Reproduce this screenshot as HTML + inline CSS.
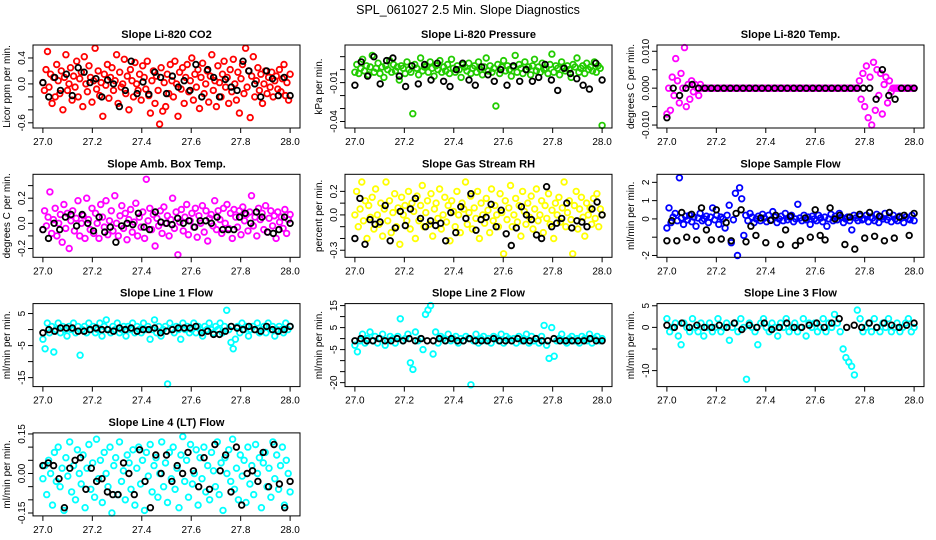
<!DOCTYPE html>
<html><head><meta charset="utf-8"><style>
html,body{margin:0;padding:0;background:#fff;}
svg{display:block;font-family:"Liberation Sans",sans-serif;}
</style></head><body>
<svg id="chart" width="936" height="540" viewBox="0 0 936 540">
<rect x="0" y="0" width="936" height="540" fill="#fff"/>
<text x="468" y="14" text-anchor="middle" font-size="12.5">SPL_061027  2.5 Min. Slope Diagnostics</text>
</svg>
<script>
const xTicks = [27.0, 27.2, 27.4, 27.6, 27.8, 28.0];
const xTickLabels = ["27.0", "27.2", "27.4", "27.6", "27.8", "28.0"];

const co2Color = [0.02,-0.1,0.22,0.5,-0.05,0.15,-0.3,0.1,-0.2,0.3,0.05,-0.15,0.2,-0.4,0.1,0.45,-0.1,0.0,0.25,-0.25,0.12,-0.05,0.35,-0.2,0.08,0.18,-0.35,0.42,0.0,-0.12,0.28,0.1,-0.28,0.05,0.55,-0.08,0.2,-0.18,0.02,-0.5,0.15,-0.02,0.3,-0.22,0.1,0.25,-0.1,0.05,0.45,-0.3,0.18,-0.05,0.0,0.38,-0.15,0.12,-0.4,0.22,0.05,-0.2,0.33,0.0,-0.1,0.15,-0.25,0.28,0.1,-0.08,0.35,-0.18,-0.45,0.05,0.2,-0.3,0.12,-0.1,-0.62,0.25,-0.42,0.02,-0.35,0.15,-0.15,0.3,0.05,-0.2,0.35,0.0,-0.5,0.18,-0.08,0.25,-0.3,0.1,0.3,-0.12,0.05,0.4,-0.25,0.15,-0.05,0.22,-0.38,0.1,0.32,-0.15,0.0,0.2,-0.28,0.12,0.45,-0.1,0.05,-0.35,0.28,0.02,-0.2,0.15,0.35,-0.05,0.1,-0.3,0.22,-0.12,0.38,0.0,-0.25,0.18,-0.45,0.08,0.3,-0.15,0.55,-0.05,0.2,-0.52,0.12,0.42,-0.2,0.05,0.25,-0.1,0.15,-0.3,0.0,0.2,-0.15,0.1,-0.05,0.18,-0.2,0.05,0.12,-0.08,0.22,-0.12,0.08,0.3,-0.18,0.02,-0.25,0.15];
const co2Black = [0.02,-0.2,0.1,-0.1,0.15,-0.18,0.25,0.18,0.02,0.08,-0.2,0.06,0.0,-0.35,-0.1,0.35,-0.15,0.03,-0.16,0.18,0.1,-0.15,0.12,-0.05,0.05,-0.1,0.3,-0.2,0.22,0.1,-0.2,0.07,-0.05,-0.1,0.35,0.2,0.0,-0.2,0.2,0.08,-0.18,0.1,-0.18];

const presColor = [-.002,.004,-.003,.001,.008,-.001,.003,-.004,.002,.011,-.002,.001,.005,-.003,.002,-.006,.003,.0,.007,-.002,.004,-.001,.002,-.008,.003,.001,-.003,.006,.0,-.002,-.034,.004,.001,-.004,.009,-.001,.002,.003,-.002,.006,.001,-.005,.003,.0,.007,-.002,.002,-.001,.004,-.003,.008,.001,-.002,.003,.0,-.006,.004,.002,-.001,.005,-.003,.001,.003,-.002,.006,.0,-.004,.002,.009,-.001,.003,-.002,.001,-.028,.004,-.003,.002,.007,-.001,.003,.0,-.005,.002,.011,-.002,.004,.001,-.003,.006,.0,.002,-.004,.003,.008,-.001,.002,-.002,.005,.0,.001,-.003,.004,.012,-.002,.003,.001,-.004,.006,.002,-.001,.003,.0,-.006,.004,.002,.009,-.002,.001,.003,-.003,.005,.0,.002,-.001,.006,-.002,.003,.001,-.043];
const presBlack = [-.012,.006,-.005,.01,-.011,.007,.009,-.005,-.013,.003,-.011,.004,-.008,.005,-.009,-.013,.0,.005,-.008,-.012,.002,-.004,-.009,.0,-.012,.003,-.009,.0,-.009,-.006,.004,-.008,-.016,.001,-.003,-.007,-.012,-.015,.005,-.008];

const tempColor = [-.007,.0,-.006,.003,-.002,.008,.002,-.004,.004,.0,.011,-.005,.001,-.003,.002,-.001,.001,.0,-.002,.001,.0,.0,.0,.0,.0,.0,.0,.0,.0,.0,.0,.0,.0,.0,.0,.0,.0,.0,.0,.0,.0,.0,.0,.0,.0,.0,.0,.0,.0,.0,.0,.0,.0,.0,.0,.0,.0,.0,.0,.0,.0,.0,.0,.0,.0,.0,.0,.0,.0,.0,.0,.0,.0,.0,.0,.0,.0,.0,.0,.0,.0,.0,.0,.0,.0,.0,.0,.0,.0,.0,.0,.0,.0,.0,.0,.0,.0,.0,.0,.0,.0,.0,.0,.0,.0,.0,.0,.0,.0,.002,-.003,.004,-.005,.006,-.008,.003,-.01,.007,-.006,.005,-.002,.004,-.007,.001,.003,-.004,.002,-.001,.0,.0,.0,.0,.0,.0,.0,.0,.0,.0,.0,.0,.0];
const tempBlack = [-.008,.0,-.002,.0,.001,.0,.0,.0,.0,.0,.0,.0,.0,.0,.0,.0,.0,.0,.0,.0,.0,.0,.0,.0,.0,.0,.0,.0,.0,.0,.0,.0,.0,-.003,.005,-.002,-.003,.0,.0,.0];

const ambColor = [-.05,.1,-.02,.05,.25,-.08,.03,.12,-.1,.0,.07,-.15,.15,-.04,.08,-.2,.02,.1,-.06,.04,.18,-.1,.0,.06,-.12,.2,.03,-.05,.12,-.08,.08,.0,-.12,.15,.05,-.03,.18,-.09,.02,.1,-.06,.22,.0,-.1,.06,.14,-.04,.08,-.13,.03,.11,-.07,.01,.16,-.1,.05,-.03,.09,-.12,.35,.02,.12,-.05,.07,-.18,.04,-.02,.1,-.08,.13,.0,.06,-.1,.03,.2,-.04,.09,-.25,.01,.11,-.06,.05,.15,-.09,.02,.08,-.03,.12,-.11,.06,.0,.14,-.07,.1,-.14,.04,.07,-.02,.18,-.05,.1,.03,-.08,.12,.0,.15,-.04,.08,-.12,.11,.05,-.03,.1,-.09,.13,.02,.07,-.06,.09,.22,-.02,.05,-.1,.12,.03,.08,-.05,.14,-.07,.04,.1,-.02,.06,-.12,.09,.01,.05,-.04,.11,-.08,.03,.07];
const ambBlack = [-.05,-.12,.0,-.05,.05,.07,-.02,.07,.0,-.06,.05,-.07,-.03,-.15,-.02,.0,-.01,.08,-.03,-.05,.09,.01,.0,-.01,.04,.0,.02,-.03,.02,.02,.0,.05,-.05,-.05,-.05,.05,.08,.0,.09,.05,-.07,-.08,-.05,.05,.0];

const rhColor = [.0,.2,-.1,.05,.28,-.05,.12,-.2,.08,-.02,.15,-.12,.22,.0,-.08,.1,-.18,.05,.28,-.05,.12,-.15,.02,.18,-.1,.06,-.25,.15,.0,.08,-.05,.2,-.12,.1,.03,-.2,.16,-.05,.08,.25,-.1,.02,.12,-.08,.18,-.18,.05,.1,-.03,.22,-.12,.0,.15,-.06,.08,-.22,.12,.03,-.1,.2,.0,-.15,.1,.05,.28,-.08,.02,.16,-.12,.06,-.03,.2,-.2,.1,.0,-.07,.14,.04,-.15,.22,-.05,.08,.0,-.1,.18,.02,-.33,.12,-.04,.06,.25,-.1,.0,.14,-.06,.08,-.18,.2,.03,-.08,.1,-.02,.16,-.12,.05,.22,-.05,.0,.12,-.15,.08,-.03,.18,-.08,.04,-.2,.1,.0,.15,-.06,.06,.28,-.1,.02,.12,-.04,-.33,.08,.2,-.12,.05,.15,-.02,-.18,.1,.0,.06,-.08,.14,-.03,.18,-.1,.05,.0];
const rhBlack = [-.2,.14,-.25,-.04,-.08,-.06,.08,-.22,-.11,.03,-.09,.05,.14,-.03,-.1,-.05,-.09,-.07,-.22,.02,-.15,.07,-.03,.18,-.13,-.04,-.02,.09,-.1,.04,-.16,-.26,-.11,.07,.0,-.04,-.17,-.2,.24,-.1,-.07,-.03,.1,-.11,-.05,-.06,-.1,.05,.11,.0];

const sampColor = [-.5,.6,-.2,.1,.3,-.1,2.25,.05,-.3,.15,-.05,.2,-.15,.1,-.4,.05,.3,-.1,.0,.15,-.2,.1,.6,-.05,.2,-.3,.1,.0,-.5,.2,.75,-1.3,-.05,1.4,-2.0,1.7,1.1,-.9,.2,-.1,.3,.1,-.2,.0,.15,-.1,.25,.05,-.15,.2,-.05,.4,.1,-.2,.0,.15,-.1,.3,-.05,.1,.2,-.15,.0,.8,.05,-.1,.2,-.05,.1,-.3,.15,.0,-.1,.2,.05,-.15,.1,-.4,.0,.25,-.1,.15,-.05,.3,.1,-.2,.0,.1,-.1,-.6,.2,.05,-.1,.15,-.05,.0,.2,-.15,.1,.05,-.1,.25,-.2,.1,.0,.3,-.05,.1,-.15,.2,.0,-.1,.15,.05,-.2,.1,.0,-.05,.2,-.1];
const sampBlack = [-1.2,-.1,-1.2,.35,-1.0,.25,-1.15,.6,-.6,-1.15,.5,-1.1,-.2,-1.2,.3,.5,-1.25,-.4,-.9,.05,-1.3,-.08,.2,-1.4,-.6,.15,-1.45,-1.2,.05,-1.0,.5,-.9,-1.15,.6,.0,.2,-1.4,.1,-1.65,.25,-1.05,.35,-.95,.15,-1.2,.35,-1.05,.1,.2,-.9,.3];

const l1Color = [-3,-6,2,-1,1,-7,0,2,-1,1,0,-2,1,0,2,-1,1,-8,0,1,-1,2,0,1,-1,0,2,-2,1,3,0,-1,1,0,2,-1,0,1,-2,1,0,2,-1,1,0,-1,2,0,1,-3,0,3,-1,1,-2,0,1,-17,2,0,-1,1,0,-3,2,0,1,-1,0,2,-1,1,0,-2,1,0,2,0,-1,1,0,2,-1,1,6,0,-4,-6,-3,1,-1,2,0,1,-2,0,1,0,2,-1,0,1,-1,2,0,1,-2,0,1,0,-1,2,0,1];
const l1Black = [-1,0,-0.5,0.5,0.5,0.5,-0.5,-0.5,0,0.5,0,0,-0.5,0.5,0,0.5,-0.5,0,0,0.5,-1,-0.5,0,0.5,0.5,0.5,1,-1,-0.5,-1.5,-1.5,-0.5,1,0.5,0,1,0,-0.5,1,0,-0.5,0,1];

const l2Color = [-3,-6,-1,2,-2,0,3,-1,1,-2,0,2,-3,-1,1,0,-2,1,9,-1,0,2,-11,-14,3,-1,0,-5,11,13,15,-7,3,-2,1,0,-1,2,-1,0,1,-2,0,-1,1,0,-21,-1,2,-2,0,1,-1,0,-2,1,0,-1,2,-2,1,0,-1,0,-2,1,-1,0,2,-2,1,-1,0,-2,1,6,-3,-9,5,-8,-1,0,2,-1,-2,0,1,-1,0,-2,1,0,-1,2,-2,0,1,-1,0];
const l2Black = [-1,0,-1,-1,0,-1,-1,0,-1,0,-1,0,-1,-1,0,-1,0,-1,-1,0,-1,-1,-1,0,-1,-1,-1,0,-1,-1,0,-1,-1,0,-1,-1,-1,-1,-1,0,-1,-1];

const l3Color = [2,-1,0,1,-2,-4,1,0,-1,2,0,-1,1,-2,0,1,-1,0,2,-1,0,1,-3,0,1,-1,2,0,-12,1,0,-1,-4,1,2,0,-1,1,0,-2,1,0,2,-1,0,1,-1,0,2,-2,1,0,1,-1,0,2,-1,1,0,3,1,-1,-5,-7,-8,-9,-11,4,2,-1,0,1,-1,2,0,-1,1,0,2,-1,0,1,-1,0,1,2,-1,0];
const l3Black = [0.5,0,1,0,0.5,0,0,0.5,0,1,-0.5,0.5,0,1,-0.5,0,1,0,0,0.5,1,0,1,2,0,0.5,0,1,0,1,0.5,0,0.5,1];

const l4Color = [-.02,.03,-.08,.05,.0,-.12,.08,-.03,.1,-.05,.02,-.14,.06,-.01,.12,-.07,.03,-.1,.09,.0,-.04,.07,-.13,.02,.11,-.06,.04,-.09,.13,-.02,.05,-.11,.08,.0,-.05,.1,-.15,.03,.06,-.08,.12,-.03,.01,-.1,.07,.04,-.06,.09,-.12,.02,.1,-.04,.05,-.14,.08,-.01,.11,-.07,.03,.06,-.09,.0,.12,-.05,.04,-.11,.08,-.02,.1,-.06,.02,-.13,.07,.14,-.03,.05,-.09,.11,-.04,.0,.09,-.12,.06,-.02,.1,-.07,.03,-.1,.08,.01,-.05,.12,-.08,.04,-.14,.06,.0,.09,-.03,.13,-.06,.02,-.1,.07,-.01,.05,-.11,.1,-.04,.03,-.08,.11,.0,.06,-.13,.04,.08,-.05,.02,-.09,.12,-.02,.07,-.06,.03,.1,-.12,.05,.0,-.07];
const l4Black = [.03,.04,.03,-.02,-.13,.02,.05,.06,-.06,.02,-.03,-.02,-.07,-.08,-.08,.04,.0,-.08,.09,-.03,-.13,.07,.0,.07,-.03,.03,.0,.08,.01,-.05,.06,-.06,.11,.01,.07,-.07,.1,-.12,.0,.01,-.03,.08,-.05,.11,-.04,-.13,-.03];

const panels = [
 {name:"co2", title:"Slope Li-820 CO2", ylab:"Licor ppm per min.", col:"#ff0000", c:co2Color, b:co2Black, lo:-0.68, hi:0.6,
  ticks:[-0.6,-0.4,-0.2,0,0.2,0.4], labels:["-0.6","","","0.0","","0.4"]},
 {name:"pressure", title:"Slope Li-820 Pressure", ylab:"kPa per min.", col:"#22cc00", c:presColor, b:presBlack, lo:-0.045, hi:0.019,
  ticks:[-0.04,-0.03,-0.02,-0.01,0,0.01], labels:["-0.04","","","-0.01","",""]},
 {name:"temp", title:"Slope Li-820 Temp.", ylab:"degrees C per min.", col:"#ff00ff", c:tempColor, b:tempBlack, lo:-0.0108, hi:0.0117,
  ticks:[-0.01,-0.005,0,0.005,0.01], labels:["-0.010","","0.000","","0.010"]},
 {name:"amb-box-temp", title:"Slope Amb. Box Temp.", ylab:"degrees C per min.", col:"#ff00ff", c:ambColor, b:ambBlack, lo:-0.27, hi:0.39,
  ticks:[-0.2,-0.1,0,0.1,0.2,0.3], labels:["-0.2","","0.0","","0.2",""]},
 {name:"gas-rh", title:"Slope Gas Stream RH", ylab:"percent per min.", col:"#ffff00", c:rhColor, b:rhBlack, lo:-0.36, hi:0.345,
  ticks:[-0.3,-0.2,-0.1,0,0.1,0.2], labels:["-0.3","","","0.0","","0.2"]},
 {name:"sample-flow", title:"Slope Sample Flow", ylab:"ml/min per min.", col:"#0000ff", c:sampColor, b:sampBlack, lo:-2.1, hi:2.44,
  ticks:[-2,-1,0,1,2], labels:["-2","","0","1","2"]},
 {name:"line1-flow", title:"Slope Line 1 Flow", ylab:"ml/min per min.", col:"#00ffff", c:l1Color, b:l1Black, lo:-17.8, hi:8.1,
  ticks:[-15,-10,-5,0,5], labels:["-15","","-5","","5"]},
 {name:"line2-flow", title:"Slope Line 2 Flow", ylab:"ml/min per min.", col:"#00ffff", c:l2Color, b:l2Black, lo:-21.8, hi:15.9,
  ticks:[-20,-15,-10,-5,0,5,10,15], labels:["-20","","","-5","","5","","15"]},
 {name:"line3-flow", title:"Slope Line 3 Flow", ylab:"ml/min per min.", col:"#00ffff", c:l3Color, b:l3Black, lo:-13.7, hi:5.5,
  ticks:[-10,-5,0,5], labels:["-10","","0","5"]},
 {name:"line4-flow", title:"Slope Line 4 (LT) Flow", ylab:"ml/min per min.", col:"#00ffff", c:l4Color, b:l4Black, lo:-0.161, hi:0.154,
  ticks:[-0.15,-0.1,-0.05,0,0.05,0.1,0.15], labels:["-0.15","","","0.00","","","0.15"]}
];

const NS = "http://www.w3.org/2000/svg";
const svg = document.getElementById("chart");
function mk(tag, attrs, parent) {
  const e = document.createElementNS(NS, tag);
  for (const k in attrs) e.setAttribute(k, attrs[k]);
  parent.appendChild(e);
  return e;
}
const BW = 267, BH = 83, XMIN = 26.96, XMAX = 28.04;
panels.forEach((p, idx) => {
  const col = idx % 3, row = Math.floor(idx / 3);
  const L = 33 + col * 312, T = 45 + row * 129.3;
  const xs = v => L + (v - XMIN) / (XMAX - XMIN) * BW;
  const ys = v => T + (p.hi - v) / (p.hi - p.lo) * BH;
  const g = mk("g", {}, svg);
  
  
  const t = mk("text", {x: L + BW / 2, y: T - 7, "text-anchor": "middle", "font-size": "11", "font-weight": "bold"}, g);
  t.textContent = p.title;
  
  
  const drawPts = (arr, color, nm) => {
    const pg = mk("g", {fill: "none", stroke: color, "stroke-width": "1.8"}, g);
    
    
    const n = arr.length;
    arr.forEach((v, i) => {
      const xv = 27 + (n > 1 ? i / (n - 1) : 0);
      const c = mk("circle", {cx: xs(xv).toFixed(1), cy: ys(v).toFixed(1), r: "2.8"}, pg);
      
      
    });
  };
  drawPts(p.c, p.col, p.name + '-series');
  drawPts(p.b, "#000", p.name + '-black-series');
  const box = mk("rect", {x: L, y: T, width: BW, height: BH, fill: "none", stroke: "#000", "stroke-width": "1"}, g);
  
  
  const xa = mk("g", {"font-size": "10"}, g);
  
  
  xTicks.forEach((v, i) => {
    const x = xs(v);
    mk("line", {x1: x, x2: x, y1: T + BH, y2: T + BH + 5, stroke: "#000"}, xa);
    const lt = mk("text", {x: x, y: T + BH + 17, "text-anchor": "middle"}, xa);
    lt.textContent = xTickLabels[i];
  });
  const ya = mk("g", {"font-size": "10"}, g);
  
  
  p.ticks.forEach((v, i) => {
    const y = ys(v);
    mk("line", {x1: L - 5, x2: L, y1: y, y2: y, stroke: "#000"}, ya);
    if (p.labels[i]) {
      const lt = mk("text", {x: L - 8, y: y, "text-anchor": "middle", transform: `rotate(-90 ${L - 8} ${y})`}, ya);
      lt.textContent = p.labels[i];
    }
  });
  const yt = mk("text", {x: L - 23, y: T + BH / 2, "text-anchor": "middle", "font-size": "10", transform: `rotate(-90 ${L - 23} ${T + BH / 2})`}, g);
  yt.textContent = p.ylab;
  
  
});
</script>
</body></html>
